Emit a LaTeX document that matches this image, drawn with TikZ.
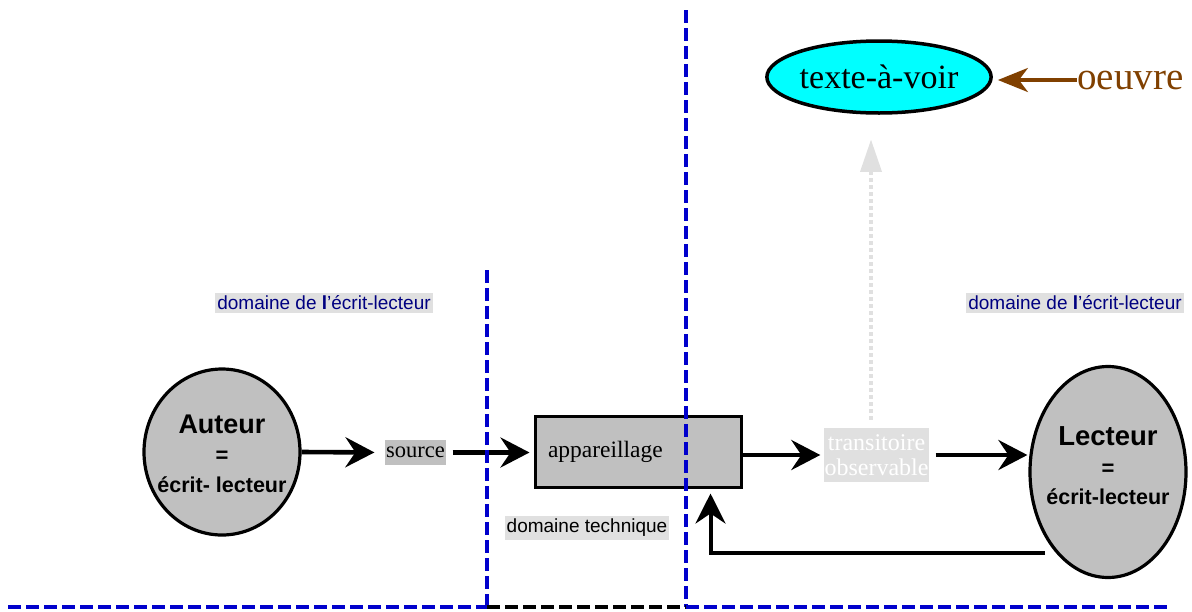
\documentclass[tikz,border=0pt]{standalone}
\usepackage{fontspec}
\setmainfont{Liberation Serif}
\setsansfont{Liberation Sans}
\usetikzlibrary{shapes.geometric,arrows.meta,calc}
\definecolor{dashblue}{RGB}{0,0,204}
\definecolor{labelblue}{RGB}{0,0,128}
\definecolor{lightbg}{RGB}{224,224,224}
\definecolor{midgray}{RGB}{192,192,192}
\definecolor{brownarr}{RGB}{128,64,0}
\definecolor{aqua}{RGB}{0,255,255}
\tikzset{
  actor/.style={ellipse,draw=black,line width=3.2pt,fill=midgray,inner sep=0pt},
  actortext/.style={align=center,inner sep=0pt,font=\sffamily\bfseries\fontsize{22}{29.5}\selectfont},
  flow/.style={line width=4.6pt,-{Stealth[length=29pt,width=30pt,inset=10pt]}},
  domainlabel/.style={fill=lightbg,text=labelblue,inner xsep=2pt,inner ysep=3pt,
    font=\sffamily\fontsize{19}{22}\selectfont},
  border/.style={dashblue,line width=3.2pt,dash pattern=on 13pt off 5pt},
}
\begin{document}
\begin{tikzpicture}[x=1pt,y=-1pt]
\useasboundingbox (0,0) rectangle (1192,611);

% top: the work seen as a text to be viewed
\node[ellipse,draw=black,line width=3.5pt,fill=aqua,minimum width=222pt,minimum height=72pt,
      inner sep=0pt,font=\fontsize{34}{40}\selectfont] (texte) at (879,77) {texte-à-voir};
\node[anchor=west,text=brownarr,inner sep=0pt,font=\fontsize{39}{44}\selectfont] (oeuvre) at (1077,80) {oeuvre};
\draw[brownarr,line width=4pt,-{Stealth[length=30pt,width=24pt,inset=9pt]},shorten >=5pt]
  (oeuvre.west) -- (oeuvre.west -| texte.east);

% domain labels
\node[domainlabel] (dom1) at (324,303) {domaine de \textbf{l}'écrit-lecteur};
\node[domainlabel] (dom2) at (1075,303) {domaine de \textbf{l}'écrit-lecteur};
\node[domainlabel,text=black] (domtech) at (587,528) {domaine technique};

% author
\node[actor,minimum width=156pt,minimum height=166pt] (auteur) at (222,452) {};
\node[actortext] (auteurtxt) at (222,453.5)
  {{\fontsize{27}{29.5}\selectfont Auteur}\\
   =\\
   {\fontsize{21.5}{29.5}\selectfont écrit- lecteur}};

% reader
\node[actor,minimum width=156pt,minimum height=211pt] (lecteur) at (1108,472) {};
\node[actortext] (lecteurtxt) at (1108,466)
  {{\fontsize{27.5}{29.5}\selectfont Lecteur}\\
   =\\
   {\fontsize{21.5}{29.5}\selectfont écrit-lecteur}};

% chain
\node[fill=midgray,inner xsep=1.5pt,inner ysep=0pt,minimum height=25pt,
      font=\fontsize{22.5}{26}\selectfont] (source) at (415.5,452.5) {source};
\node[draw=black,line width=3pt,fill=midgray,minimum height=71pt,text width=180pt,
      inner xsep=13pt,align=left,font=\fontsize{23.5}{28}\selectfont] (app) at (638,451.5) {appareillage};
\node[fill=lightbg,text=white,align=center,inner xsep=1pt,inner ysep=2pt,minimum width=105pt,
      minimum height=54pt,font=\fontsize{24}{25}\selectfont] (trans) at (876.5,455) {transitoire\\observable};

\draw[flow,shorten >=10pt] (auteur.east) -- (source.west);
\draw[flow,shorten <=6pt,shorten >=4pt] (source.east) -- (app.west |- source.east);
\draw[flow,shorten >=3pt] (app.east |- trans.west) -- (trans.west);
\draw[flow,shorten <=6pt,shorten >=1pt] (trans.east) -- (trans.east -| lecteur.west);

% feedback from the reader to the apparatus
\coordinate (fb) at (1045,553);
\draw[line width=4pt,-{Stealth[length=30pt,width=30pt,inset=10pt]},shorten >=5pt]
  (fb) -| ($(app.south east)+(-32,0)$);

% observed transient towards the text to be viewed
\draw[lightbg,line width=4pt,dash pattern=on 4pt off 3pt,shorten <=8pt,shorten >=25pt,
      -{Triangle[length=32pt,width=22pt,line width=0pt]}]
  ([xshift=-5.5pt]trans.north) -- ([xshift=-5.5pt]trans.north |- texte.south);

% boundaries between the domains
\coordinate (v1top) at (487,270);
\coordinate (v1bot) at (487,607);
\coordinate (v2top) at (686,10);
\coordinate (v2bot) at (686,607);
\coordinate (hleft) at (8,607);
\coordinate (hright) at (1170,607);
\draw[border] (v1top) -- (v1bot);
\draw[border] (v2top) -- (v2bot);
\draw[border] (hleft) -- (v1bot);
\draw[border,black] (v1bot) -- (v2bot);
\draw[border] (v2bot) -- (hright);
\end{tikzpicture}
\end{document}
